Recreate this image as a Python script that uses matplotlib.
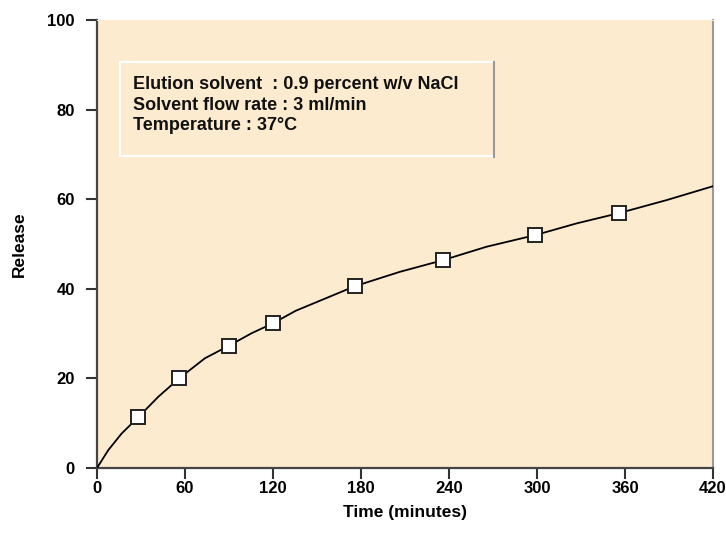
import matplotlib.pyplot as plt
from matplotlib.patches import Rectangle

# values
sample_time = [28, 56, 90, 120, 176, 236, 299, 356]
sample_release = [11.3, 20.0, 27.3, 32.3, 40.6, 46.4, 52.0, 56.9]

curve_time = [0, 7.7, 16.8, 28, 41.8, 56, 73.6, 90, 105.5, 120, 135.5,
              176, 206.6, 236, 265.7, 299, 327, 356, 388.4, 420]
curve_release = [0, 4.0, 7.7, 11.3, 15.9, 20.0, 24.5, 27.3, 30.1, 32.3, 35.1,
                 40.6, 43.8, 46.4, 49.4, 52.0, 54.6, 56.9, 59.8, 62.9]

x_ticks = [0, 60, 120, 180, 240, 300, 360, 420]
y_ticks = [0, 20, 40, 60, 80, 100]

info_lines = [
    'Elution solvent  : 0.9 percent w/v NaCl',
    'Solvent flow rate : 3 ml/min',
    'Temperature : 37°C',
]

plt.rcParams['font.family'] = ['Liberation Sans', 'DejaVu Sans']
plt.rcParams['font.weight'] = 'bold'

fig = plt.figure(figsize=(7.26, 5.47), dpi=100)
ax = fig.add_axes([0.1336, 0.1444, 0.8484, 0.819])
ax.set_facecolor('#fdebd0')

ax.plot(curve_time, curve_release, color='black', lw=1.3, zorder=3)
ax.plot(sample_time, sample_release, ls='none', marker='s', ms=9.5,
        mfc='white', mec='#222222', mew=1.4, zorder=4)

ax.set_xlim(0, 420)
ax.set_ylim(0, 100)
ax.set_xticks(x_ticks)
ax.set_yticks(y_ticks)
ax.tick_params(direction='out', length=8, width=1.5, color='#333333',
               labelsize=12)
ax.tick_params(axis='x', pad=1.5)
ax.tick_params(axis='y', pad=8)
for lab in ax.get_xticklabels() + ax.get_yticklabels():
    lab.set_fontweight('bold')

ax.spines['left'].set_color('#444444')
ax.spines['left'].set_linewidth(1.6)
ax.spines['bottom'].set_color('#444444')
ax.spines['bottom'].set_linewidth(1.6)
ax.spines['right'].set_color('#999999')
ax.spines['right'].set_linewidth(1.5)
ax.spines['top'].set_color('#fdebd0')

ax.set_xlabel('Time (minutes)', fontsize=12.5, fontweight='bold', labelpad=6)
ax.set_ylabel('Release', fontsize=12.5, fontweight='bold', labelpad=15)

# info box
box = Rectangle((15.7, 69.6), 255.3, 21.0, facecolor='none',
                edgecolor='white', lw=1.5, zorder=2)
ax.add_patch(box)
ax.plot([271, 271], [69.4, 90.6], color='#999999', lw=1.5, zorder=2)
for i, line in enumerate(info_lines):
    ax.text(24.5, 85.6 - i * 4.6, line, fontsize=13, fontweight='bold',
            va='center', ha='left', color='#111111')

fig.savefig('out.png', dpi=100)
